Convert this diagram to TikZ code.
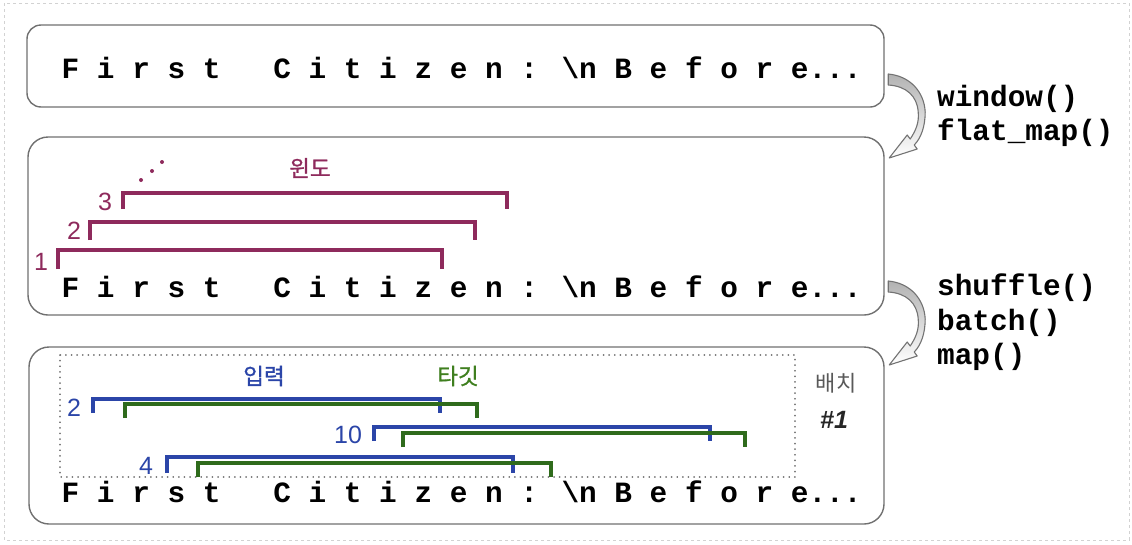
\documentclass[tikz,border=0pt]{standalone}
\usepackage{fontspec}
\usetikzlibrary{calc}
\newfontfamily\codefont{Liberation Mono}
\newfontfamily\sansf{Liberation Sans}
\newfontfamily\krfont[FakeBold=1.2]{Noto Sans CJK KR}
\newfontfamily\krlight{Noto Sans CJK KR}
\definecolor{boxgray}{HTML}{707070}
\definecolor{wpurple}{HTML}{8E2A5C}
\definecolor{inblue}{HTML}{2B45A8}
\definecolor{tggreen}{HTML}{2F6B1C}
\definecolor{tglabel}{HTML}{3F7F1F}
\newcommand{\citext}{F i r s t~~~C i t i z e n : \textbackslash n B e f o r e...}
\begin{document}
\begin{tikzpicture}[x=1pt,y=-1pt,
  panel/.style={draw=boxgray, line width=1.4pt, rounded corners=#1, inner sep=0pt},
  seqtext/.style={anchor=base west, inner sep=0pt, font=\codefont\bfseries\fontsize{29.4}{35}\selectfont},
  oplabel/.style={anchor=base west, inner sep=0pt, font=\codefont\bfseries\fontsize{29.4}{35}\selectfont},
  brk/.style={line width=3.2pt, line cap=butt, line join=miter},
  numlabel/.style={inner sep=0pt, font=\sansf\fontsize{25}{27}\selectfont},
  krlabel/.style={inner sep=0pt, font=\krfont\fontsize{22.5}{24}\selectfont},
  flowarrow/.style={draw=black!55, line width=1.1pt, top color=gray!60, bottom color=white, line join=round}
]
\useasboundingbox (0,0) rectangle (1132,544);
\draw[gray!35, dashed, line width=0.6pt] (4,3) rectangle (1129,540);

% panels
\node[panel=14pt, minimum width=857pt, minimum height=82pt] (b1) at (455.5,66) {};
\node[panel=20pt, minimum width=856pt, minimum height=178pt] (b2) at (456,226) {};
\node[panel=20pt, minimum width=855pt, minimum height=177pt] (b3) at (456.5,435.5) {};

% sequence texts
\node[seqtext] (t1) at (61.5,78) {\citext};
\node[seqtext] (t2) at (61.5,297) {\citext};
\node[seqtext] (t3) at (61.5,502) {\citext};

% operation labels
\node[oplabel] (op1) at (937,106) {window()};
\node[oplabel] (op2) at (937,140) {flat\_map()};
\node[oplabel] (op3) at (937,295) {shuffle()};
\node[oplabel] (op4) at (937,330) {batch()};
\node[oplabel] (op5) at (937,364) {map()};

% curved arrows
\coordinate (a1) at ($(b1.east)+(3.5,8)$);
\coordinate (a2) at ($(b2.east)+(3.5,55)$);
\foreach \a in {a1,a2}{
  \begin{scope}[shift={(\a)}]
    \path[flowarrow] (0,0) .. controls (22,2) and (36,18) .. (37,38)
      .. controls (37,52) and (33,64) .. (26,71) -- (29,75) -- (1,84) -- (19,61) -- (22,65)
      .. controls (28,56) and (31,48) .. (30,38)
      .. controls (29,22) and (18,12) .. (0,11) -- cycle;
  \end{scope}
}

% windows (panel 2)
\draw[brk, wpurple] (58,269) -- (58,250) -- (442,250) -- (442,269);
\draw[brk, wpurple] (90,240) -- (90,222) -- (475,222) -- (475,240);
\draw[brk, wpurple] (123,209) -- (123,193) -- (507,193) -- (507,209);
\node[numlabel, text=wpurple] (n1) at (41,262) {1};
\node[numlabel, text=wpurple] (n2) at (74,231) {2};
\node[numlabel, text=wpurple] (n3) at (105,202) {3};
\node[krlabel, text=wpurple] (win) at (310,168) {윈도};
\fill[wpurple] (141,180) circle (2) (152,171) circle (2) (162,162) circle (2);

% batch (panel 3)
\draw[black!55, line width=1.8pt, dash pattern=on 0.1pt off 5.5pt, line cap=round] (60,355) rectangle (795,477);
\node[inner sep=0pt, font=\krlight\fontsize{22}{24}\selectfont, text=black!65] (bl) at (836,383) {배치};
\node[inner sep=0pt, font=\sansf\bfseries\itshape\fontsize{25}{27}\selectfont, text=black!85] (bn) at (834,420) {\#1};

\node[krlabel, text=inblue] (inl) at (264,376) {입력};
\node[krlabel, text=tglabel] (tgl) at (458,376) {타깃};

\draw[brk, inblue] (93,413) -- (93,399) -- (440,399) -- (440,413);
\draw[brk, tggreen] (125,418) -- (125,404) -- (477,404) -- (477,418);
\draw[brk, inblue] (374,441) -- (374,427) -- (710,427) -- (710,441);
\draw[brk, tggreen] (403,447) -- (403,433) -- (745,433) -- (745,447);
\draw[brk, inblue] (167,473) -- (167,457) -- (513,457) -- (513,473);
\draw[brk, tggreen] (198,477) -- (198,463) -- (551,463) -- (551,477);
\node[numlabel, text=inblue] (m2) at (74,408) {2};
\node[numlabel, text=inblue] (m10) at (348,435) {10};
\node[numlabel, text=inblue] (m4) at (146,466) {4};
\end{tikzpicture}
\end{document}
